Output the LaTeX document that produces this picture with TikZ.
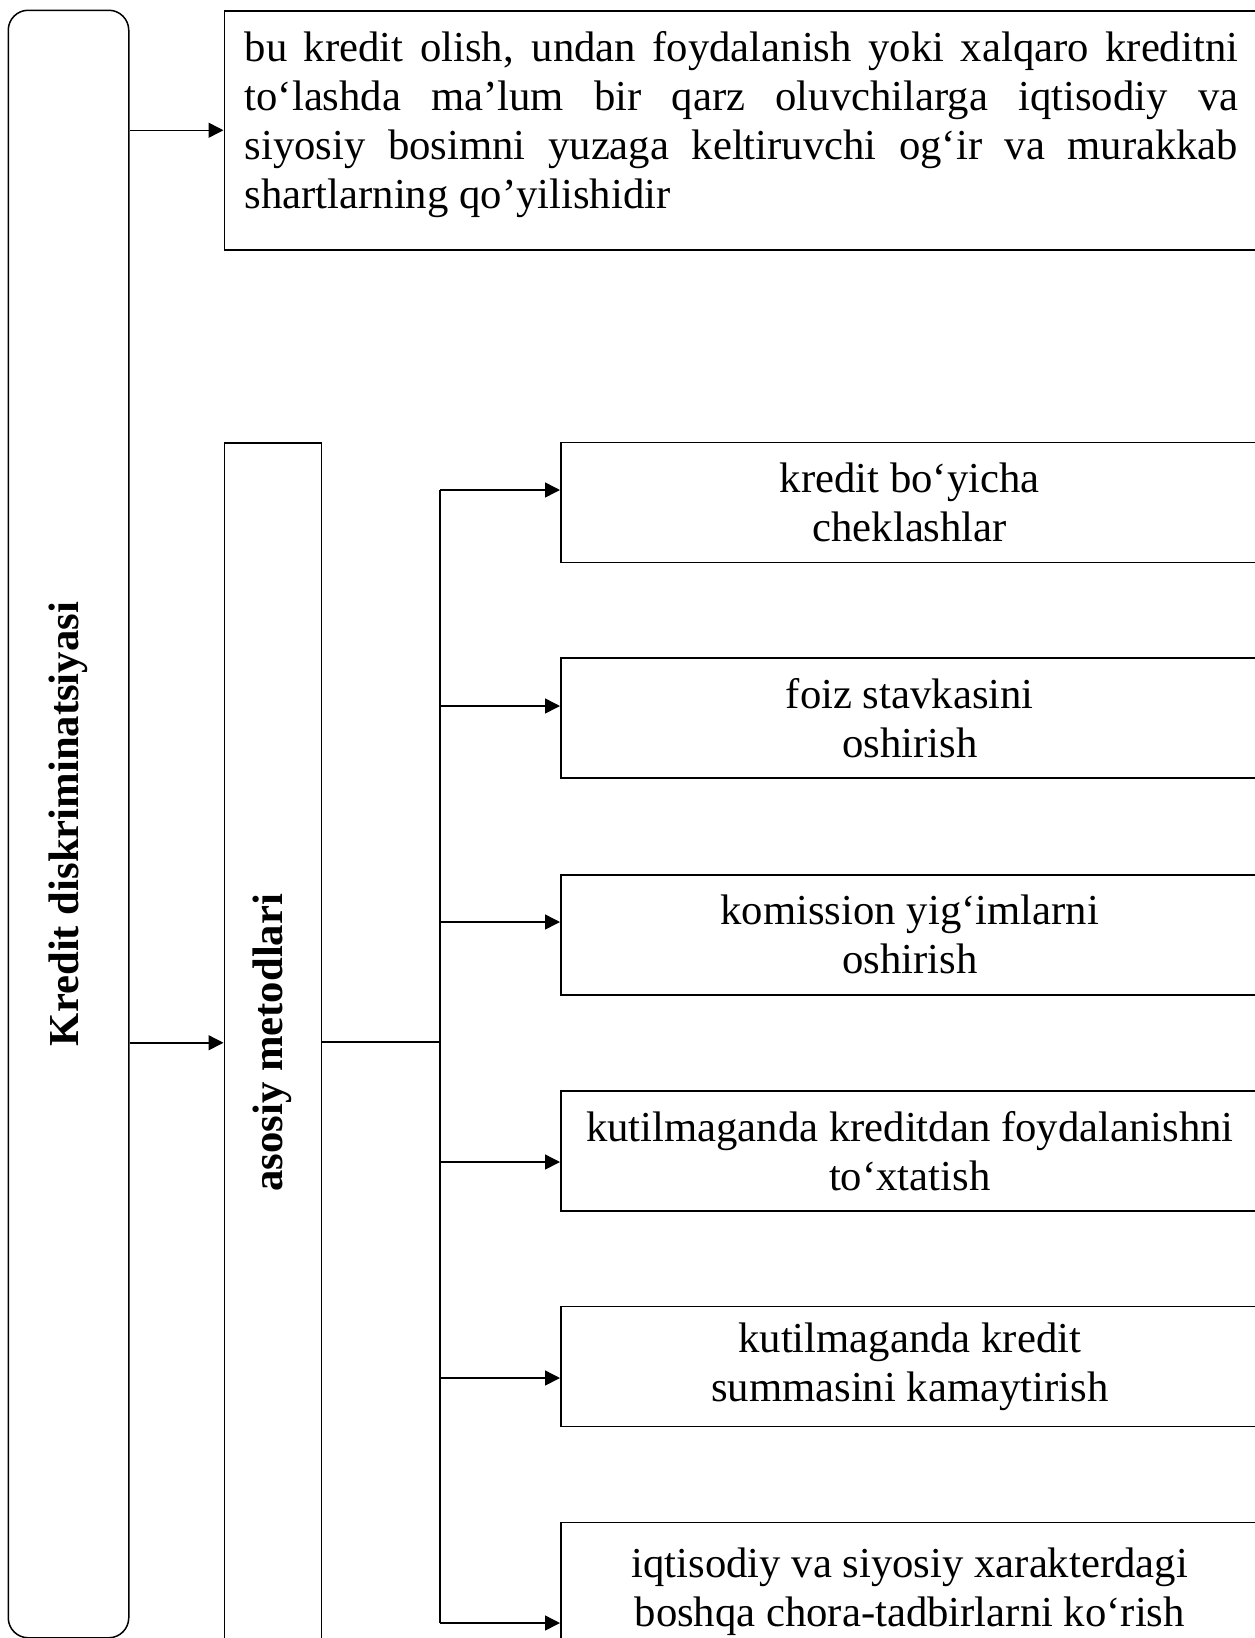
\documentclass[tikz,border=0pt]{standalone}
\usepackage{fontspec}
\setmainfont{Liberation Serif}
\usetikzlibrary{arrows.meta}
\begin{document}
\begin{tikzpicture}[x=1pt,y=-1pt,
  frame/.style={draw, line width=1.5pt, inner sep=0pt},
  box/.style={frame, minimum height=120pt, minimum width=698pt, align=center,
    anchor=north west, font=\fontsize{42.7}{49}\selectfont},
  link/.style={line width=1.5pt},
  arr/.style={line width=1.5pt, -{Triangle[length=15pt,width=15pt]}},
  vlabel/.style={font=\fontsize{42.7}{49}\selectfont\bfseries},
]
\useasboundingbox (0,0) rectangle (1255,1638);

% main rounded box
\node[frame, rounded corners=20pt, minimum width=120.5pt, minimum height=1627.5pt,
  anchor=north west, vlabel] (root) at (7.5,9.5) {\rotatebox{90}{Kredit diskriminatsiyasi}};

% definition box
\node[frame, anchor=north west, minimum width=1034.5pt, minimum height=239pt] (def) at (223.5,10) {};
\node[anchor=north west, text width=993.5pt, align=justify, inner sep=0pt,
  font=\fontsize{42.7}{49}\selectfont] (deftext) at (244.5,31)
  {bu kredit olish, undan foydalanish yoki xalqaro kreditni\linebreak
   to‘lashda ma’lum bir qarz oluvchilarga iqtisodiy va\linebreak
   siyosiy bosimni yuzaga keltiruvchi og‘ir va murakkab\linebreak
   shartlarning qo’yilishidir};

% methods box
\node[frame, anchor=north west, minimum width=97pt, minimum height=1200pt, vlabel] (methods)
  at (223.5,442) {\rotatebox{90}{asosiy metodlari}};

% method boxes
\node[box] (m1) at (560,441.7) {kredit bo‘yicha\\cheklashlar};
\node[box] (m2) at (560,657.3) {foiz stavkasini\\oshirish};
\node[box] (m3) at (560,874) {komission yig‘imlarni\\oshirish};
\node[box] (m4) at (560,1090) {kutilmaganda kreditdan foydalanishni\\to‘xtatish};
\node[box] (m5) at (560,1305.7) {kutilmaganda kredit\\summasini kamaytirish};
\node[box, minimum height=139pt] (m6) at (560,1521.7) {iqtisodiy va siyosiy xarakterdagi\\boshqa chora-tadbirlarni ko‘rish};

% connectors from root
\draw[arr] (root.east |- def.west) -- (def.west);
\draw[arr] (root.east |- methods.west) -- (methods.west);

% trunk
\coordinate (j) at (440,1042);
\coordinate (t1) at (440,490);
\coordinate (t2) at (440,706);
\coordinate (t3) at (440,922);
\coordinate (t4) at (440,1162);
\coordinate (t5) at (440,1378);
\coordinate (t6) at (440,1623);
\draw[link] (j -| methods.east) -- (j);
\draw[link] (t1) -- (t6);
\draw[arr] (t1) -- (t1 -| m1.west);
\draw[arr] (t2) -- (t2 -| m2.west);
\draw[arr] (t3) -- (t3 -| m3.west);
\draw[arr] (t4) -- (t4 -| m4.west);
\draw[arr] (t5) -- (t5 -| m5.west);
\draw[arr] (t6) -- (t6 -| m6.west);
\end{tikzpicture}
\end{document}
